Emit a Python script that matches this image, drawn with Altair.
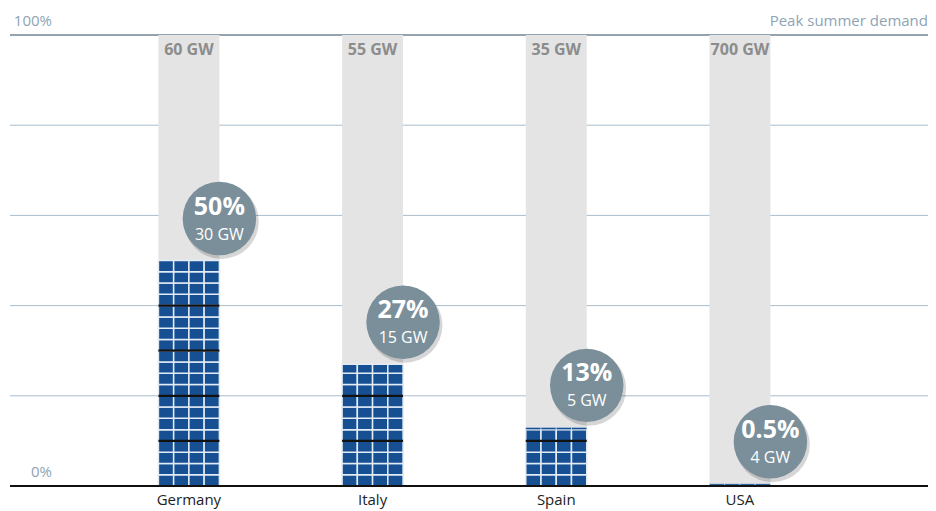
import altair as alt
import pandas as pd

# ---- data ----
countries = ["Germany", "Italy", "Spain", "USA"]
share_pct = [50, 27, 13, 0.5]
share_labels = ["50%", "27%", "13%", "0.5%"]
solar_labels = ["30 GW", "15 GW", "5 GW", "4 GW"]
demand_labels = ["60 GW", "55 GW", "35 GW", "700 GW"]
grid_levels = [20, 40, 60, 80]
scale_levels = [0, 100]
scale_labels = ["0%", "100%"]
legend_text = ["Peak summer demand"]
cell_step = 2.5      # one panel row = 2.5 %
divider_step = 10    # dark line every 10 %
n_cols = 4

FONT = "Open Sans"
W, H = 918, 451

base = pd.DataFrame({
    "country": countries,
    "share": share_pct,
    "share_label": share_labels,
    "solar": solar_labels,
    "demand": demand_labels,
    "full": [100] * len(countries),
})

cells = []
for c, s in zip(countries, share_pct):
    k = 0
    while k * cell_step < s:
        for col in range(n_cols):
            cells.append({"country": c, "col": col,
                          "y0": k * cell_step,
                          "y1": min(s, (k + 1) * cell_step)})
        k += 1
cells = pd.DataFrame(cells)

dividers = []
for c, s in zip(countries, share_pct):
    m = divider_step
    while m < s - 0.5:
        dividers.append({"country": c, "y0": m - 0.24, "y1": m + 0.24})
        m += divider_step
dividers = pd.DataFrame(dividers)

grid = pd.DataFrame({"v": grid_levels})
scale_df = pd.DataFrame({"v": scale_levels, "label": scale_labels})

xscale = alt.Scale(domain=countries, paddingInner=0.668, paddingOuter=0.833, align=0.485)
xaxis = alt.Axis(title=None, domain=False, ticks=False, labelAngle=0,
                 labelFont=FONT, labelFontSize=15, labelColor="#222222",
                 labelPadding=6)
yscale = alt.Scale(domain=[0, 100], nice=False)


def X(bp=None):
    kw = dict(sort=countries, scale=xscale, axis=xaxis)
    if bp is not None:
        kw["bandPosition"] = bp
    return alt.X("country:N", **kw)


gridlines = alt.Chart(grid).mark_rule(color="#a9bdcc", strokeWidth=1).encode(
    y=alt.Y("v:Q", scale=yscale, axis=None))

topline = alt.Chart(scale_df).transform_filter("datum.v == 100").mark_rule(
    color="#6f8696", strokeWidth=1.3).encode(y=alt.Y("v:Q", scale=yscale, axis=None))

scale_text = alt.Chart(scale_df).mark_text(
    align="right", baseline="alphabetic", dy=-9, font=FONT, fontSize=15,
    color="#8ea4b6").encode(
    x=alt.value(42), y=alt.Y("v:Q", scale=yscale, axis=None), text="label:N")

legend = alt.Chart(pd.DataFrame({"t": legend_text, "v": [100]})).mark_text(
    align="right", baseline="alphabetic", dy=-9, font=FONT, fontSize=15,
    color="#8ea4b6").encode(
    x=alt.value(W), y=alt.Y("v:Q", scale=yscale, axis=None), text="t:N")

gray = alt.Chart(base).mark_bar(color="#e4e4e4").encode(
    x=X(), y=alt.Y("full:Q", scale=yscale, axis=None))

demand_text = alt.Chart(base).mark_text(
    baseline="alphabetic", dy=20, font=FONT, fontSize=16, fontWeight="bold",
    color="#8c8c8c").encode(
    x=X(0.5), y=alt.Y("full:Q", scale=yscale, axis=None), text="demand:N")

cell_layer = alt.Chart(cells).mark_rect(
    color="#175092", stroke="#e3ebf5").encode(
    x=X(),
    xOffset=alt.XOffset("col:O", scale=alt.Scale(paddingInner=0, paddingOuter=0)),
    y=alt.Y("y0:Q", scale=yscale, axis=None), y2="y1:Q",
    strokeWidth=alt.condition("datum.y1 - datum.y0 < 1", alt.value(0.6), alt.value(1.5)))

divider_layer = alt.Chart(dividers).mark_rect(color="#111111").encode(
    x=X(), y=alt.Y("y0:Q", scale=yscale, axis=None), y2="y1:Q")

shadow = alt.Chart(base).mark_point(
    shape="circle", filled=True, size=5600, color="#000000", opacity=0.16,
    xOffset=2, yOffset=-39).encode(
    x=X(1), y=alt.Y("share:Q", scale=yscale, axis=None))

bubble = alt.Chart(base).mark_point(
    shape="circle", filled=True, size=5400, color="#7a8f9a", opacity=1,
    yOffset=-42).encode(
    x=X(1), y=alt.Y("share:Q", scale=yscale, axis=None))

pct_text = alt.Chart(base).mark_text(
    baseline="alphabetic", yOffset=-46, font=FONT, fontSize=25,
    fontWeight="bold", color="white").encode(
    x=X(1), y=alt.Y("share:Q", scale=yscale, axis=None), text="share_label:N")

gw_text = alt.Chart(base).mark_text(
    baseline="alphabetic", yOffset=-21, font=FONT, fontSize=16,
    color="white").encode(
    x=X(1), y=alt.Y("share:Q", scale=yscale, axis=None), text="solar:N")

baseline = alt.Chart(scale_df).transform_filter("datum.v == 0").mark_rule(
    color="#111111", strokeWidth=2).encode(y=alt.Y("v:Q", scale=yscale, axis=None))

chart = alt.layer(
    gridlines, topline, scale_text, legend, gray, demand_text,
    cell_layer, divider_layer, shadow, bubble, pct_text, gw_text, baseline
).properties(
    width=W, height=H,
    autosize=alt.AutoSizeParams(type="none"),
    padding={"left": 2, "top": 27, "right": 0, "bottom": 25},
    background="white",
).configure_view(stroke=None)

chart.save("out.html", embed_options={"renderer": "svg", "actions": False})
